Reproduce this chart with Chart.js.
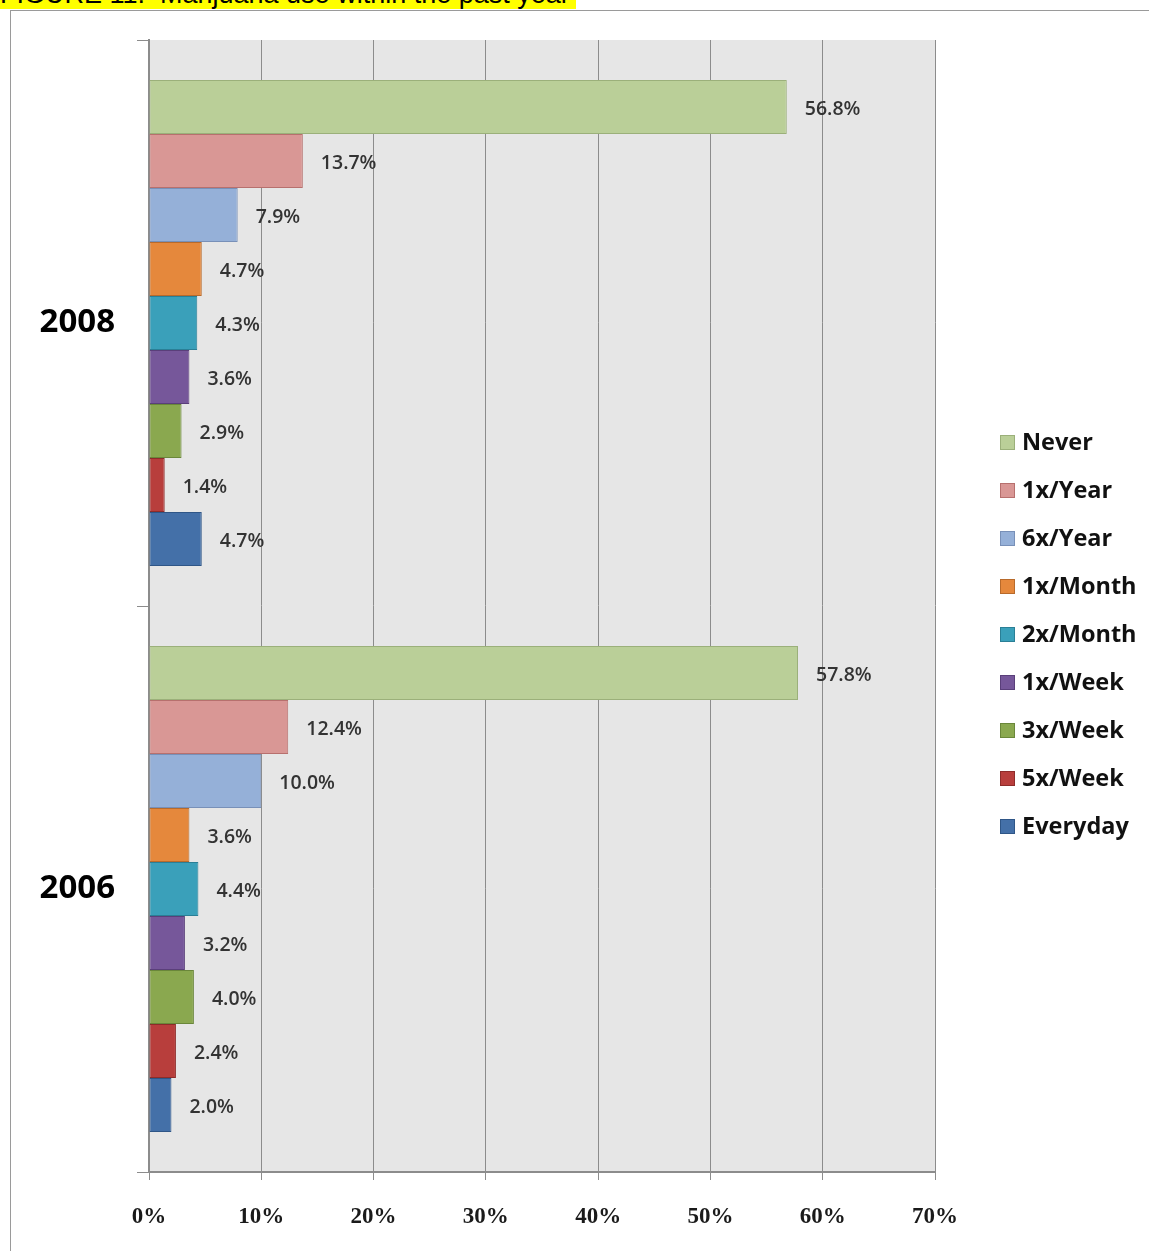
<!DOCTYPE html>
<html>
<head>
<meta charset="utf-8">
<title>Marijuana use within the past year</title>
<script src="https://cdn.jsdelivr.net/npm/chart.js@4"></script>
<style>
  html, body { margin: 0; padding: 0; background: #fff; overflow: hidden; }
  body { width: 1149px; height: 1251px; position: relative; }
  #caption {
    position: absolute; left: 0; top: -21px;
    font: 27px "Liberation Sans", Arial, sans-serif;
    background: #ffff00; color: #000; line-height: 30px;
    white-space: nowrap; padding-right: 6px;
  }
  #frame {
    position: absolute; left: 10px; top: 10px; width: 1200px; height: 1300px;
    border: 1px solid #9a9a9a; box-sizing: border-box;
  }
  #chart { position: absolute; left: 0; top: 0; }
  #legend { position: absolute; left: 1000px; top: 426px; }
  .item { height: 48px; display: flex; align-items: flex-start; white-space: nowrap; }
  .box { width: 15px; height: 15px; margin: 9px 7px 0 0; box-sizing: border-box; border: 1px solid; }
  .lbl { font: bold 23.5px "Open Sans", sans-serif; color: #111; line-height: 30px; }
</style>
</head>
<body>
<div id="caption">FIGURE 11:&nbsp; Marijuana use within the past year</div>
<div id="frame"></div>
<canvas id="chart" width="1149" height="1251"></canvas>
<div id="legend"></div>
<script>
// ===============================
// Data
// ===============================
const years = ["2008", "2006"];
const frequencies = ["Never", "1x/Year", "6x/Year", "1x/Month", "2x/Month", "1x/Week", "3x/Week", "5x/Week", "Everyday"];
const share2008 = [56.8, 13.7, 7.9, 4.7, 4.3, 3.6, 2.9, 1.4, 4.7];
const share2006 = [57.8, 12.4, 10.0, 3.6, 4.4, 3.2, 4.0, 2.4, 2.0];
const xTicks = [0, 10, 20, 30, 40, 50, 60, 70];

const fills = ["#bacf98", "#d99795", "#95b0d8", "#e5883c", "#3aa0ba", "#76579a", "#8aa84f", "#b83e3c", "#4470a8"];
const edges = ["#9bb07a", "#b7706e", "#7890b8", "#b86a2b", "#2a7f96", "#5a3f7a", "#6a873a", "#8e2c2a", "#2f5687"];

// ===============================
// Plugins
// ===============================
const plotBackground = {
  id: "plotBackground",
  beforeDraw(chart) {
    const { ctx, chartArea: a } = chart;
    ctx.save();
    ctx.fillStyle = "#e6e6e6";
    ctx.fillRect(a.left, a.top, a.right - a.left, a.bottom - a.top);
    ctx.restore();
  }
};

const valueLabels = {
  id: "valueLabels",
  afterDatasetsDraw(chart) {
    const ctx = chart.ctx;
    ctx.save();
    ctx.font = "600 19.5px 'Open Sans', sans-serif";
    ctx.fillStyle = "#333";
    ctx.textAlign = "left";
    ctx.textBaseline = "middle";
    chart.data.datasets.forEach((ds, i) => {
      chart.getDatasetMeta(i).data.forEach((bar, j) => {
        ctx.fillText(ds.data[j].toFixed(1) + "%", bar.x + 18, bar.y + 2);
      });
    });
    ctx.restore();
  }
};

// ===============================
// Chart
// ===============================
const datasets = frequencies.map((name, k) => ({
  label: name,
  data: [share2008[k], share2006[k]],
  backgroundColor: fills[k],
  borderColor: edges[k],
  borderWidth: 1,
  borderSkipped: false,
  barPercentage: 1,
  categoryPercentage: 486 / 566
}));

new Chart(document.getElementById("chart"), {
  type: "bar",
  data: { labels: years, datasets },
  options: {
    indexAxis: "y",
    responsive: false,
    animation: false,
    layout: { padding: { top: 40, right: 214, bottom: 0, left: 0 } },
    plugins: {
      legend: { display: false },
      tooltip: { enabled: false }
    },
    scales: {
      x: {
        min: 0,
        max: 70,
        afterBuildTicks(scale) {
          scale.ticks = xTicks.map(v => ({ value: v }));
        },
        afterFit(scale) { scale.height = 79; },
        ticks: {
          callback: v => v + "%",
          color: "#1a1a1a",
          padding: 23,
          font: { family: "'Liberation Serif', serif", size: 23, weight: "bold" }
        },
        grid: { color: "#8c8c8c", lineWidth: 1, tickLength: 8 },
        border: { color: "#8c8c8c", width: 2 }
      },
      y: {
        afterFit(scale) { scale.width = 149; },
        ticks: {
          color: "#000",
          padding: 22,
          font: { family: "'Open Sans', sans-serif", size: 33, weight: "bold", lineHeight: 1 }
        },
        grid: { offset: true, drawOnChartArea: false, color: "#8c8c8c", tickLength: 12 },
        border: { color: "#8c8c8c", width: 2 }
      }
    }
  },
  plugins: [plotBackground, valueLabels]
});

// ===============================
// Legend
// ===============================
const legendEl = document.getElementById("legend");
frequencies.forEach((name, k) => {
  const row = document.createElement("div");
  row.className = "item";
  const box = document.createElement("span");
  box.className = "box";
  box.style.background = fills[k];
  box.style.borderColor = edges[k];
  const lbl = document.createElement("span");
  lbl.className = "lbl";
  lbl.textContent = name;
  row.appendChild(box);
  row.appendChild(lbl);
  legendEl.appendChild(row);
});
</script>
</body>
</html>
